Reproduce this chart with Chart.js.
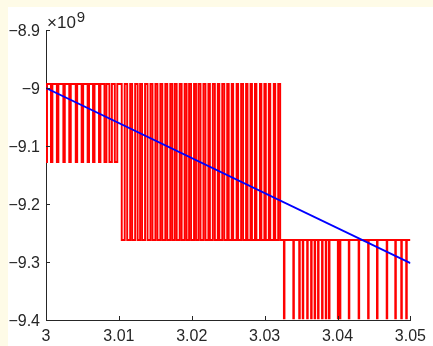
<!DOCTYPE html>
<html><head><meta charset="utf-8">
<script src="https://cdn.jsdelivr.net/npm/chart.js@4.4.0/dist/chart.umd.min.js"></script>
<style>html,body{margin:0;padding:0;background:#fefbe7;overflow:hidden}
canvas{position:absolute;left:0;top:0}</style></head>
<body><canvas id="c" width="433" height="346"></canvas>
<script>
const xTicks = [3, 3.01, 3.02, 3.03, 3.04, 3.05];
const xTickLabels = ['3', '3.01', '3.02', '3.03', '3.04', '3.05'];
const yTicks = [-9.4, -9.3, -9.2, -9.1, -9.0, -8.9];
const yTickLabels = ['−9.4', '−9.3', '−9.2', '−9.1', '−9', '−8.9'];
const exponentLabel = ['×10', '9'];

// quantised signal levels (×10^9)
const levels = [-8.993, -9.1275, -9.262, -9.397];
// segment 1 (3.00–3.01): high level with dips to level 2
const seg1Dips = [[3.00000,3.00014],[3.00068,3.00088],[3.00149,3.00170],[3.00238,3.00258],[3.00319,3.00340],[3.00408,3.00428],[3.00489,3.00510],[3.00571,3.00591],[3.00645,3.00666],[3.00727,3.00747],[3.00802,3.00829],[3.00870,3.00904],[3.00944,3.00978]];
// segment 2 (3.01–3.0325): low level 3 with pulses up to level 1
const seg2Highs = [[3.01000,3.01039],[3.01080,3.01114],[3.01155,3.01182],[3.01223,3.01257],[3.01291,3.01318],[3.01359,3.01393],[3.01433,3.01461],[3.01501,3.01529],[3.01569,3.01596],[3.01637,3.01664],[3.01705,3.01732],[3.01766,3.01793],[3.01834,3.01861],[3.01902,3.01929],[3.01963,3.01990],[3.02031,3.02058],[3.02092,3.02120],[3.02160,3.02188],[3.02228,3.02249],[3.02289,3.02317],[3.02357,3.02378],[3.02418,3.02446],[3.02486,3.02507],[3.02548,3.02568],[3.02615,3.02636],[3.02677,3.02704],[3.02745,3.02765],[3.02806,3.02826],[3.02867,3.02887],[3.02935,3.02955],[3.02996,3.03016],[3.03057,3.03077],[3.03125,3.03145],[3.03186,3.03213]];
// segment 3 (3.0325–3.05): level 3 with dips to level 4
const seg3Dips = [[3.03264,3.03272],[3.03393,3.03401],[3.03474,3.03482],[3.03522,3.03530],[3.03583,3.03591],[3.03637,3.03645],[3.03685,3.03693],[3.03732,3.03740],[3.03787,3.03795],[3.03838,3.03846],[3.03882,3.03890],[3.04004,3.04012],[3.04031,3.04039],[3.04154,3.04162],[3.04289,3.04297],[3.04419,3.04427],[3.04541,3.04549],[3.04674,3.04682],[3.04792,3.04800],[3.04874,3.04882],[3.04942,3.04950]];
const redEnd = 3.05;
// blue fitted line
const fitX = [3.0, 3.05];
const fitY = [-9.0, -9.302];

function addSteps(base, alt, intervals, pts) {
  intervals.forEach(([a, b]) => { pts.push({x: a, y: alt}); pts.push({x: b, y: base}); });
}
const redPts = [{x: 3.0, y: levels[0]}];
addSteps(levels[0], levels[1], seg1Dips, redPts);
addSteps(levels[2], levels[0], seg2Highs, redPts);
addSteps(levels[2], levels[3], seg3Dips, redPts);
redPts.push({x: redEnd, y: levels[2]});
const bluePts = fitX.map((x, i) => ({x, y: fitY[i]}));

const AX = '#262626';
const FONT = '"Liberation Sans", Arial, Helvetica, sans-serif';

const decor = {
  id: 'decor',
  beforeDraw(chart) {
    const ctx = chart.ctx;
    ctx.save();
    ctx.fillStyle = '#fefbe7';
    ctx.fillRect(0, 0, chart.width, chart.height);
    ctx.fillStyle = '#ffffff';
    ctx.fillRect(8, 7, chart.width - 8, chart.height - 7);
    ctx.restore();
  },
  afterDraw(chart) {
    const ctx = chart.ctx, xs = chart.scales.x, ys = chart.scales.y;
    const ca = chart.chartArea;
    ctx.save();
    ctx.strokeStyle = AX; ctx.lineWidth = 1;
    ctx.beginPath();
    xTicks.forEach(v => {
      const px = Math.round(xs.getPixelForValue(v)) + 0.5;
      ctx.moveTo(px, ca.bottom); ctx.lineTo(px, ca.bottom - 4);
    });
    yTicks.forEach(v => {
      const py = Math.round(ys.getPixelForValue(v)) + 0.5;
      ctx.moveTo(ca.left, py); ctx.lineTo(ca.left + 4, py);
    });
    ctx.stroke();
    ctx.fillStyle = AX;
    ctx.textBaseline = 'alphabetic';
    ctx.font = '17px ' + FONT;
    ctx.fillText(exponentLabel[0], ca.left + 1, ca.top - 2);
    const w = ctx.measureText(exponentLabel[0]).width;
    ctx.font = '15px ' + FONT;
    ctx.fillText(exponentLabel[1], ca.left + 1 + w + 1, ca.top - 8);
    ctx.restore();
  }
};

new Chart(document.getElementById('c'), {
  type: 'line',
  data: {
    datasets: [
      {data: bluePts, borderColor: '#0000ff', borderWidth: 1.8, pointRadius: 0, fill: false, tension: 0},
      {data: redPts, borderColor: '#ff0000', borderWidth: 1.9, pointRadius: 0, fill: false, stepped: true}
    ]
  },
  options: {
    responsive: false, animation: false, devicePixelRatio: 1,
    layout: {padding: {left: 0, top: 30, right: 19, bottom: 0}},
    plugins: {legend: {display: false}, tooltip: {enabled: false}},
    scales: {
      x: {
        type: 'linear', min: 3, max: 3.05,
        afterBuildTicks: s => { s.ticks = xTicks.map(v => ({value: v})); },
        afterFit: s => { s.height = 26; },
        ticks: {callback: (v, i) => xTickLabels[i], font: {family: FONT, size: 16}, color: AX, padding: 7, maxRotation: 0, autoSkip: false},
        grid: {display: false, drawTicks: false},
        border: {display: true, color: AX, width: 1}
      },
      y: {
        type: 'linear', min: -9.4, max: -8.9,
        afterBuildTicks: s => { s.ticks = yTicks.map(v => ({value: v})); },
        afterFit: s => { s.width = 46; },
        ticks: {callback: (v, i) => yTickLabels[i], font: {family: FONT, size: 16}, color: AX, padding: 6, labelOffset: 2, autoSkip: false},
        grid: {display: false, drawTicks: false},
        border: {display: true, color: AX, width: 1}
      }
    }
  },
  plugins: [decor]
});
</script></body></html>
